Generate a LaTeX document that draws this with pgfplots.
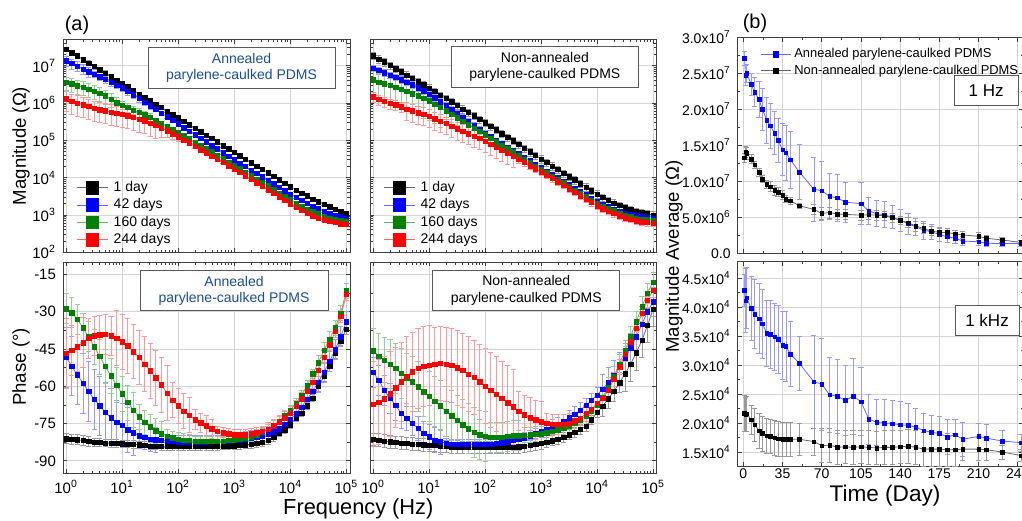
\documentclass[border=0pt]{standalone}
\usepackage{fontspec}
\setmainfont{Liberation Sans}
\usepackage{pgfplots}
\usepackage{pgfplotstable}
\pgfplotsset{compat=1.18}
\definecolor{ogreen}{RGB}{0,128,0}
\definecolor{annblue}{RGB}{28,78,150}

% Magnitude, annealed: f, |Z| (1 d, 42 d, 160 d, 244 d) with relative errors
\pgfplotstableread{
f b be u ue g ge r re
1 2.75e7 0.15 1.35e7 0.3 3.55e6 0.4 1.29e6 0.55
1.259 2.24e7 0.15 1.15e7 0.3 3.24e6 0.4 1.12e6 0.55
1.585 1.82e7 0.15 9.77e6 0.3 2.88e6 0.4 1.00e6 0.55
1.995 1.45e7 0.15 8.13e6 0.3 2.63e6 0.4 8.91e5 0.55
2.512 1.17e7 0.15 6.92e6 0.3 2.34e6 0.4 8.13e5 0.55
3.162 9.55e6 0.15 5.89e6 0.2 2.09e6 0.4 7.24e5 0.55
3.981 7.76e6 0.15 5.01e6 0.2 1.82e6 0.4 6.61e5 0.55
5.012 6.31e6 0.15 4.27e6 0.2 1.55e6 0.4 6.17e5 0.55
6.310 5.01e6 0.15 3.55e6 0.2 1.26e6 0.4 5.75e5 0.55
7.943 4.07e6 0.15 3.02e6 0.2 1.02e6 0.4 5.37e5 0.55
10 3.31e6 0.15 2.57e6 0.2 8.71e5 0.25 5.01e5 0.55
12.59 2.69e6 0.08 2.04e6 0.2 7.59e5 0.25 4.57e5 0.55
15.85 2.19e6 0.08 1.66e6 0.2 6.46e5 0.25 4.17e5 0.55
19.95 1.74e6 0.08 1.32e6 0.2 5.62e5 0.25 3.72e5 0.55
25.12 1.41e6 0.08 1.05e6 0.2 4.90e5 0.25 3.31e5 0.55
31.62 1.15e6 0.08 8.51e5 0.2 4.17e5 0.25 2.88e5 0.55
39.81 9.33e5 0.08 6.76e5 0.08 3.47e5 0.08 2.51e5 0.55
50.12 7.59e5 0.08 5.37e5 0.08 2.88e5 0.08 2.14e5 0.45
63.10 6.03e5 0.08 4.27e5 0.08 2.40e5 0.08 1.82e5 0.35
79.43 4.90e5 0.08 3.47e5 0.08 2.00e5 0.08 1.51e5 0.3
100 3.98e5 0.08 2.75e5 0.08 1.66e5 0.08 1.26e5 0.25
125.9 3.24e5 0.08 2.19e5 0.08 1.35e5 0.08 1.02e5 0.12
158.5 2.63e5 0.08 1.78e5 0.08 1.10e5 0.08 8.51e4 0.12
199.5 2.09e5 0.08 1.41e5 0.08 8.91e4 0.08 6.92e4 0.12
251.2 1.70e5 0.08 1.15e5 0.08 7.24e4 0.08 5.62e4 0.12
316.2 1.38e5 0.08 9.12e4 0.08 6.03e4 0.08 4.68e4 0.12
398.1 1.12e5 0.08 7.24e4 0.08 4.90e4 0.08 3.80e4 0.08
501.2 9.12e4 0.08 5.89e4 0.08 3.98e4 0.08 3.09e4 0.08
631.0 7.24e4 0.08 4.68e4 0.08 3.24e4 0.08 2.57e4 0.08
794.3 5.89e4 0.08 3.80e4 0.08 2.63e4 0.08 2.09e4 0.08
1000 4.79e4 0.08 3.02e4 0.08 2.14e4 0.08 1.70e4 0.08
1259 3.89e4 0.08 2.45e4 0.08 1.74e4 0.08 1.38e4 0.08
1585 3.16e4 0.08 2.00e4 0.08 1.41e4 0.08 1.12e4 0.08
1995 2.51e4 0.08 1.58e4 0.08 1.12e4 0.08 8.91e3 0.08
2512 2.04e4 0.08 1.29e4 0.08 9.12e3 0.08 7.24e3 0.08
3162 1.66e4 0.08 1.05e4 0.08 7.41e3 0.08 5.89e3 0.08
3981 1.35e4 0.08 8.51e3 0.08 6.03e3 0.08 4.79e3 0.08
5012 1.10e4 0.08 6.92e3 0.08 4.90e3 0.08 3.80e3 0.08
6310 8.71e3 0.08 5.50e3 0.08 3.89e3 0.08 3.09e3 0.08
7943 7.08e3 0.08 4.47e3 0.08 3.16e3 0.08 2.51e3 0.08
10000 5.75e3 0.08 3.63e3 0.08 2.57e3 0.08 2.00e3 0.08
12590 4.68e3 0.08 2.95e3 0.08 2.09e3 0.08 1.62e3 0.08
15850 3.89e3 0.08 2.45e3 0.08 1.74e3 0.08 1.35e3 0.08
19950 3.24e3 0.08 2.04e3 0.08 1.45e3 0.08 1.12e3 0.08
25120 2.69e3 0.08 1.74e3 0.08 1.23e3 0.08 955 0.08
31620 2.29e3 0.08 1.48e3 0.08 1.07e3 0.08 832 0.08
39810 1.95e3 0.08 1.26e3 0.08 933 0.08 741 0.08
50120 1.66e3 0.08 1.10e3 0.08 832 0.08 676 0.08
63100 1.41e3 0.08 977 0.08 759 0.08 631 0.08
79430 1.23e3 0.08 891 0.08 708 0.08 589 0.08
100000 1.07e3 0.08 813 0.08 661 0.08 562 0.08
}\magA

% Magnitude, non-annealed
\pgfplotstableread{
f b be u ue g ge r re
1 1.86e7 0.22 8.51e6 0.2 4.17e6 0.7 1.48e6 0.3
1.259 1.51e7 0.22 7.41e6 0.2 3.63e6 0.7 1.26e6 0.3
1.585 1.26e7 0.22 6.46e6 0.2 3.24e6 0.7 1.10e6 0.3
1.995 1.02e7 0.22 5.62e6 0.2 2.95e6 0.7 9.77e5 0.3
2.512 8.32e6 0.22 4.90e6 0.2 2.63e6 0.7 8.91e5 0.3
3.162 6.92e6 0.22 4.17e6 0.2 2.34e6 0.7 7.94e5 0.3
3.981 5.62e6 0.22 3.63e6 0.2 2.04e6 0.7 6.92e5 0.5
5.012 4.57e6 0.22 3.09e6 0.2 1.78e6 0.7 6.17e5 0.5
6.310 3.72e6 0.22 2.57e6 0.2 1.55e6 0.7 5.50e5 0.5
7.943 3.09e6 0.22 2.14e6 0.2 1.32e6 0.7 5.01e5 0.5
10 2.51e6 0.22 1.74e6 0.2 1.15e6 0.7 4.47e5 0.5
12.59 2.04e6 0.22 1.38e6 0.2 9.33e5 0.7 3.80e5 0.5
15.85 1.62e6 0.22 1.07e6 0.2 7.59e5 0.7 3.24e5 0.5
19.95 1.32e6 0.22 8.51e5 0.2 6.17e5 0.4 2.82e5 0.5
25.12 1.07e6 0.22 6.61e5 0.2 5.01e5 0.4 2.40e5 0.5
31.62 8.71e5 0.22 5.25e5 0.2 4.07e5 0.4 2.04e5 0.5
39.81 6.92e5 0.22 4.07e5 0.2 3.24e5 0.4 1.78e5 0.5
50.12 5.62e5 0.22 3.24e5 0.2 2.63e5 0.15 1.51e5 0.5
63.10 4.57e5 0.22 2.51e5 0.2 2.14e5 0.15 1.29e5 0.5
79.43 3.63e5 0.22 2.00e5 0.2 1.74e5 0.15 1.12e5 0.5
100 2.95e5 0.22 1.55e5 0.2 1.41e5 0.15 9.55e4 0.5
125.9 2.34e5 0.22 1.26e5 0.12 1.15e5 0.15 7.94e4 0.5
158.5 1.91e5 0.22 1.02e5 0.12 9.12e4 0.15 6.61e4 0.5
199.5 1.51e5 0.22 8.13e4 0.12 7.41e4 0.15 5.37e4 0.5
251.2 1.20e5 0.22 6.61e4 0.12 6.03e4 0.15 4.47e4 0.5
316.2 9.77e4 0.22 5.37e4 0.12 4.90e4 0.15 3.72e4 0.5
398.1 7.76e4 0.22 4.37e4 0.12 3.89e4 0.15 3.09e4 0.2
501.2 6.17e4 0.22 3.55e4 0.12 3.16e4 0.15 2.57e4 0.2
631.0 4.90e4 0.22 2.82e4 0.12 2.57e4 0.15 2.09e4 0.2
794.3 3.98e4 0.22 2.29e4 0.12 2.04e4 0.15 1.74e4 0.2
1000 3.16e4 0.22 1.86e4 0.12 1.66e4 0.15 1.45e4 0.2
1259 2.57e4 0.22 1.51e4 0.12 1.35e4 0.15 1.17e4 0.2
1585 2.04e4 0.22 1.23e4 0.12 1.10e4 0.15 9.55e3 0.2
1995 1.66e4 0.22 1.00e4 0.12 8.91e3 0.15 7.76e3 0.2
2512 1.32e4 0.22 7.94e3 0.12 7.24e3 0.15 6.31e3 0.2
3162 1.07e4 0.22 6.46e3 0.12 5.89e3 0.15 5.01e3 0.2
3981 8.71e3 0.22 5.25e3 0.12 4.68e3 0.15 4.07e3 0.2
5012 6.92e3 0.22 4.27e3 0.12 3.80e3 0.15 3.31e3 0.2
6310 5.62e3 0.22 3.47e3 0.12 3.09e3 0.15 2.69e3 0.2
7943 4.47e3 0.22 2.82e3 0.12 2.51e3 0.15 2.19e3 0.2
10000 3.63e3 0.22 2.29e3 0.12 2.04e3 0.15 1.78e3 0.2
12590 2.95e3 0.22 1.95e3 0.12 1.74e3 0.15 1.48e3 0.2
15850 2.45e3 0.22 1.66e3 0.12 1.48e3 0.15 1.26e3 0.2
19950 2.09e3 0.22 1.45e3 0.12 1.29e3 0.15 1.10e3 0.2
25120 1.82e3 0.22 1.26e3 0.12 1.12e3 0.15 955 0.2
31620 1.58e3 0.22 1.12e3 0.12 1.00e3 0.15 851 0.2
39810 1.41e3 0.22 1.02e3 0.12 912 0.15 776 0.2
50120 1.26e3 0.22 955 0.12 832 0.15 708 0.2
63100 1.15e3 0.22 891 0.12 776 0.15 661 0.2
79430 1.07e3 0.22 851 0.12 741 0.15 631 0.2
100000 1.00e3 0.22 813 0.12 708 0.15 603 0.2
}\magN

% Phase, annealed
\pgfplotstableread{
f b be u ue g ge r re
1 -81.0 2 -48.3 12 -28.7 6 -46.7 14
1.259 -81.2 2 -51.8 12 -30.4 6 -45.4 10
1.585 -81.5 2 -55.4 12 -33.0 6 -44.0 10
1.995 -81.8 2 -58.7 12 -36.5 6 -42.4 10
2.512 -82.2 2 -62.0 12 -40.0 6 -40.6 8
3.162 -82.5 1.5 -65.2 12 -44.0 7 -39.7 8
3.981 -82.6 1.5 -67.8 12 -48.0 7 -39.3 8
5.012 -82.8 1.5 -70.5 12 -52.0 7 -39.0 8
6.310 -82.9 1.5 -72.7 12 -55.8 7 -39.7 8
7.943 -83.0 1.5 -74.5 9 -59.5 7 -40.6 11
10 -83.1 1.5 -75.7 9 -63.0 7 -42.0 11
12.59 -83.2 1.5 -77.4 9 -66.5 7 -43.6 11
15.85 -83.3 1.5 -78.7 9 -69.5 7 -46.0 11
19.95 -83.5 1.5 -79.8 5 -72.2 5 -48.3 11
25.12 -83.7 1.5 -80.5 5 -74.5 5 -51.0 11
31.62 -84.0 1.5 -81.2 5 -76.3 5 -53.7 11
39.81 -84.0 1.5 -81.5 5 -77.8 5 -56.5 11
50.12 -84.1 1.5 -81.8 2.5 -79.0 5 -59.4 11
63.10 -84.1 1.5 -82.0 2.5 -80.0 2.5 -62.7 11
79.43 -84.1 1.5 -82.2 2.5 -80.7 2.5 -65.5 7
100 -84.1 1.5 -82.3 2.5 -81.2 2.5 -67.8 7
125.9 -84.1 1.5 -82.3 2.5 -81.6 2.5 -70.0 7
158.5 -84.1 1.5 -82.3 2.5 -81.8 2.5 -71.6 7
199.5 -84.1 1.5 -82.3 2.5 -82.0 2 -73.4 4
251.2 -84.2 1.5 -82.3 2.5 -82.0 2 -74.7 4
316.2 -84.2 1.5 -82.3 2.5 -82.0 2 -75.8 4
398.1 -84.2 1.5 -82.2 2.5 -82.0 2 -77.1 4
501.2 -84.1 1.5 -82.2 2.5 -82.0 2 -78.1 2
631.0 -84.0 1.5 -82.1 2.5 -82.0 2 -78.7 2
794.3 -84.0 1.5 -82.0 2.5 -81.8 2 -79.1 2
1000 -83.9 1.5 -81.8 2.5 -81.6 2 -79.4 2
1259 -83.7 1.5 -81.5 3 -81.3 2 -79.5 2
1585 -83.5 1.5 -81.2 3 -80.8 2 -79.4 2
1995 -83.3 1.5 -80.9 3 -80.2 2 -79.1 2
2512 -83.0 1.5 -80.5 3 -79.4 2 -78.7 2
3162 -82.6 1.5 -79.8 3 -78.5 2 -78.1 2
3981 -81.8 1.5 -79.3 3 -77.3 2 -77.2 2.5
5012 -80.5 1.5 -78.3 3 -75.8 2 -75.8 2.5
6310 -78.7 1.5 -77.0 3 -74.0 2 -74.3 2.5
7943 -77.4 1.5 -75.3 3 -71.8 2 -72.7 2.5
10000 -75.5 1.5 -73.3 3 -69.5 2 -70.7 2.5
12590 -72.7 1.5 -71.0 3 -66.7 2 -68.0 2.5
15850 -70.7 1.5 -68.3 3 -63.6 2 -65.0 2.5
19950 -67.8 1.5 -65.3 3 -59.8 2 -62.0 2.5
25120 -64.7 1.5 -62.0 3 -55.0 2 -58.4 2.5
31620 -60.0 2 -58.3 4 -50.5 3 -53.5 2.5
39810 -56.0 2 -54.3 4 -45.5 3 -48.2 2.5
50120 -52.0 2 -50.0 4 -41.0 3 -43.2 2.5
63100 -46.7 2 -45.3 4 -36.5 3 -37.9 2.5
79430 -41.6 2 -40.0 4 -30.5 3 -31.9 2.5
100000 -37.0 2 -34.0 4 -21.5 3 -23.0 2.5
}\phA

% Phase, non-annealed
\pgfplotstableread{
f b be u ue g ge r re
1 -81.3 2.5 -54.4 6 -45.7 9 -67.1 17
1.259 -81.6 2.5 -57.5 6 -47.8 9 -66.3 17
1.585 -82.0 2.5 -61.5 6 -49.4 9 -65.0 17
1.995 -82.3 2.5 -64.8 6 -51.0 10 -63.0 17
2.512 -82.6 2.5 -67.5 6 -52.8 10 -60.5 16
3.162 -82.8 2.5 -70.9 6 -54.8 10 -58.2 16
3.981 -83.0 2.5 -72.9 5 -56.8 10 -56.0 16
5.012 -83.2 2.5 -74.9 5 -58.1 10 -54.2 16
6.310 -83.4 2.5 -76.9 5 -60.1 10 -52.8 16
7.943 -83.5 2.5 -78.9 5 -62.1 10 -51.9 16
10 -83.7 2.5 -80.2 5 -64.1 10 -51.5 16
12.59 -83.8 2.5 -81.6 5 -66.1 10 -51.1 15
15.85 -84.0 2.5 -82.3 5 -67.8 10 -50.8 15
19.95 -84.2 2.5 -82.9 2 -70.1 10 -51.1 15
25.12 -84.3 2.5 -83.2 2 -71.8 10 -51.5 15
31.62 -84.4 2.5 -83.3 2 -73.7 10 -52.5 15
39.81 -84.5 2.5 -83.3 2 -75.4 10 -53.5 15
50.12 -84.5 2.5 -83.3 2 -77.0 10 -55.1 15
63.10 -84.5 2.5 -83.3 2 -78.5 10 -56.4 15
79.43 -84.5 2.5 -83.3 2 -79.5 10 -58.2 15
100 -84.5 2.5 -83.3 2 -80.1 10 -59.9 15
125.9 -84.5 2.5 -83.2 2 -80.4 6 -61.5 15
158.5 -84.5 2.5 -83.0 2 -80.5 6 -63.1 15
199.5 -84.5 2.5 -82.7 2 -80.4 6 -64.8 15
251.2 -84.5 2.5 -82.3 2 -80.1 6 -66.6 15
316.2 -84.4 2.5 -81.8 2 -79.8 6 -68.2 15
398.1 -84.3 2.5 -81.2 2 -79.8 6 -69.9 8
501.2 -84.1 2.5 -80.6 2 -79.6 3 -71.5 8
631.0 -83.8 2.5 -79.9 2 -79.4 3 -72.6 8
794.3 -83.4 2.5 -79.1 2 -79.2 3 -73.5 8
1000 -83.0 2.5 -78.3 2 -79.0 3 -74.2 8
1259 -82.5 2 -77.4 3 -78.6 3 -74.9 4
1585 -81.9 2 -76.4 3 -78.1 3 -75.2 4
1995 -81.2 2 -75.3 3 -77.5 3 -75.2 4
2512 -80.4 2 -74.1 3 -76.7 3 -75.2 4
3162 -79.5 2 -72.7 3 -75.8 3 -74.9 4
3981 -78.4 2 -71.2 3 -74.7 4 -73.8 3
5012 -77.2 2 -69.5 3 -73.4 4 -72.9 3
6310 -76.0 2 -67.7 3 -71.8 4 -70.9 3
7943 -73.5 2 -65.7 3 -69.8 4 -69.3 3
10000 -70.5 2 -63.5 3 -67.4 4 -66.9 3
12590 -68.0 4 -61.1 6 -64.3 4 -64.8 3
15850 -65.0 4 -58.4 6 -60.5 4 -61.5 3
19950 -62.0 4 -55.5 6 -56.0 4 -57.2 3
25120 -58.5 4 -52.2 6 -51.0 4 -52.1 3
31620 -55.0 7 -48.6 6 -45.5 4 -47.0 3
39810 -51.0 7 -44.5 6 -39.8 4 -42.0 3
50120 -46.5 7 -40.0 6 -34.0 4 -36.7 3
63100 -41.5 7 -35.0 6 -28.0 4 -30.7 3
79430 -35.5 7 -30.0 6 -22.5 4 -25.4 3
100000 -29.0 7 -26.0 6 -18.0 4 -21.3 3
}\phN

% 1 Hz magnitude average vs time
\pgfplotstableread{
d v e
1 2.71e7 1.0e6
2 2.47e7 1.4e6
3 2.50e7 1.3e6
7 2.35e7 1.5e6
10 2.24e7 2.0e6
14 2.14e7 2.5e6
17 2.00e7 2.9e6
21 1.85e7 3.2e6
24 1.77e7 3.1e6
28 1.67e7 3.0e6
31 1.57e7 3.0e6
35 1.44e7 3.6e6
38 1.40e7 3.8e6
42 1.30e7 4.0e6
50 1.13e7 3.8e6
63 8.9e6 4.4e6
70 8.7e6 4.1e6
77 7.9e6 3.2e6
84 7.7e6 3.2e6
91 7.1e6 2.8e6
105 6.9e6 2.9e6
112 5.9e6 1.9e6
119 5.5e6 1.8e6
126 5.35e6 1.8e6
133 5.0e6 1.6e6
140 4.6e6 1.5e6
147 4.1e6 1.4e6
154 3.7e6 1.2e6
161 3.2e6 1.2e6
168 3.0e6 1.0e6
175 2.6e6 1.0e6
182 2.3e6 0.8e6
189 2.1e6 0.7e6
196 1.7e6 0.6e6
210 1.6e6 0.5e6
217 1.4e6 0.4e6
231 1.35e6 0.4e6
248 1.35e6 0.4e6
}\hzA
\pgfplotstableread{
d v e
1 1.33e7 0.6e6
2 1.41e7 0.8e6
3 1.39e7 0.8e6
7 1.31e7 0.6e6
10 1.23e7 0.5e6
14 1.125e7 0.5e6
17 1.03e7 0.5e6
21 9.6e6 0.6e6
24 9.25e6 0.7e6
28 8.8e6 0.7e6
31 8.5e6 0.6e6
35 8.1e6 0.6e6
38 7.55e6 0.5e6
42 7.3e6 0.5e6
50 6.6e6 0.4e6
63 6.1e6 0.7e6
70 5.55e6 0.8e6
77 5.65e6 0.8e6
84 5.46e6 0.7e6
91 5.4e6 0.7e6
105 5.3e6 0.7e6
112 5.35e6 0.7e6
119 5.3e6 0.7e6
126 5.2e6 0.6e6
133 4.95e6 0.6e6
140 4.6e6 0.6e6
147 4.25e6 0.7e6
154 3.8e6 0.7e6
161 3.45e6 0.7e6
168 3.1e6 0.6e6
175 2.9e6 0.6e6
182 2.9e6 0.6e6
189 2.7e6 0.5e6
196 2.55e6 0.5e6
210 2.35e6 0.5e6
217 2.1e6 0.4e6
231 1.85e6 0.3e6
248 1.5e6 0.3e6
}\hzN

% 1 kHz magnitude average vs time
\pgfplotstableread{
d v e
1 4.29e4 2.8e3
2 4.11e4 5.5e3
3 4.16e4 5.3e3
7 3.98e4 5.5e3
10 3.88e4 5.9e3
14 3.80e4 6.0e3
17 3.71e4 6.0e3
21 3.55e4 5.7e3
24 3.53e4 5.9e3
28 3.49e4 5.8e3
31 3.44e4 5.9e3
35 3.34e4 5.8e3
38 3.32e4 6.0e3
42 3.19e4 5.6e3
50 3.03e4 4.6e3
63 2.71e4 8.0e3
70 2.67e4 7.9e3
77 2.49e4 6.5e3
84 2.46e4 6.4e3
91 2.39e4 6.0e3
98 2.46e4 6.6e3
105 2.37e4 5.9e3
112 2.07e4 4.3e3
119 2.01e4 4.0e3
126 2.00e4 4.0e3
133 1.99e4 4.0e3
140 1.97e4 4.0e3
147 1.96e4 3.8e3
154 1.93e4 3.3e3
161 1.87e4 3.0e3
168 1.84e4 3.0e3
175 1.82e4 3.0e3
182 1.76e4 3.0e3
189 1.80e4 2.6e3
196 1.72e4 2.9e3
210 1.77e4 2.3e3
217 1.74e4 2.3e3
231 1.69e4 1.9e3
248 1.66e4 1.5e3
}\khzA
\pgfplotstableread{
d v e
1 2.17e4 3.1e3
2 2.15e4 3.0e3
3 2.16e4 3.0e3
7 2.06e4 2.5e3
10 1.97e4 2.8e3
14 1.87e4 3.0e3
17 1.82e4 3.0e3
21 1.78e4 3.0e3
24 1.77e4 3.0e3
28 1.75e4 3.0e3
31 1.73e4 3.0e3
35 1.72e4 3.0e3
38 1.72e4 3.0e3
42 1.72e4 3.0e3
50 1.72e4 2.7e3
63 1.68e4 2.3e3
70 1.61e4 2.9e3
77 1.62e4 2.9e3
84 1.58e4 2.9e3
91 1.59e4 2.9e3
98 1.58e4 2.9e3
105 1.59e4 2.9e3
112 1.58e4 2.9e3
119 1.57e4 2.9e3
126 1.58e4 2.9e3
133 1.58e4 2.9e3
140 1.59e4 2.9e3
147 1.60e4 2.9e3
154 1.58e4 2.9e3
161 1.55e4 2.9e3
168 1.55e4 2.9e3
175 1.55e4 2.9e3
182 1.54e4 2.9e3
189 1.54e4 2.9e3
196 1.55e4 2.0e3
210 1.55e4 2.0e3
217 1.54e4 1.8e3
231 1.50e4 1.2e3
248 1.44e4 1.0e3
}\khzN

\pgfplotsset{
  ser/.style={color=#1!60, line width=0.4pt, mark=square*, mark size=1.1pt,
    mark options={solid, fill=#1, draw=#1, line width=0.2pt},
    error bars/y dir=both,
    error bars/error bar style={#1!40, line width=0.35pt},
    error bars/error mark options={#1!40, line width=0.35pt, mark size=1.3pt, rotate=90}},
}
\tikzset{tbox/.style={draw=black!65, line width=0.5pt, fill=white, align=center,
    inner sep=0pt, font=\fontsize{7}{8.2}\selectfont}}

\begin{document}
\begin{tikzpicture}

% ---------- (a) top left: magnitude, annealed ----------
\begin{axis}[scale only axis, anchor=south west, at={(31.5pt,133.85pt)}, width=143.5pt, height=106.4pt,
  xmode=log, ymode=log, xmin=0.88, xmax=1.16e5, ymin=100, ymax=5e7,
  axis line style={black!75, line width=0.5pt},
  grid=major, major grid style={black!17, line width=0.4pt},
  tick style={black!75, line width=0.4pt}, major tick length=2.2pt, minor tick length=1.3pt, tick align=inside,
  ticklabel style={font=\fontsize{7.5}{9}\selectfont},
  xtick={1,10,100,1000,10000,100000},
  minor xtick={2,3,4,5,6,7,8,9,20,30,40,50,60,70,80,90,200,300,400,500,600,700,800,900,2000,3000,4000,5000,6000,7000,8000,9000,20000,30000,40000,50000,60000,70000,80000,90000},
  xticklabels={},
  ytick={100,1000,10000,100000,1000000,10000000},
  minor ytick={200,300,400,500,600,700,800,900,2000,3000,4000,5000,6000,7000,8000,9000,2e4,3e4,4e4,5e4,6e4,7e4,8e4,9e4,2e5,3e5,4e5,5e5,6e5,7e5,8e5,9e5,2e6,3e6,4e6,5e6,6e6,7e6,8e6,9e6,2e7,3e7,4e7},
  yticklabels={10\textsuperscript{2},10\textsuperscript{3},10\textsuperscript{4},10\textsuperscript{5},10\textsuperscript{6},10\textsuperscript{7}},
  legend image code/.code={
    \draw[#1, mark=none] (0pt,0pt) -- (15.5pt,0pt);
    \draw[#1, mark size=3.2pt] plot coordinates {(7.75pt,0pt)};
    \path (17.3pt,0pt);
  },
  legend style={at={(0.045,0.018)}, anchor=south west, draw=none, fill=none,
    font=\fontsize{7}{8}\selectfont, inner sep=0pt, row sep=0pt,
    nodes={inner sep=1pt, text height=5.2pt, text depth=1.4pt}},
  legend cell align=left]
\addplot[ser=black, error bars/y explicit relative] table[x=f, y=b, y error=be] {\magA};
\addplot[ser=blue, error bars/y explicit relative] table[x=f, y=u, y error=ue] {\magA};
\addplot[ser=ogreen, error bars/y explicit relative] table[x=f, y=g, y error=ge] {\magA};
\addplot[ser=red, error bars/y explicit relative] table[x=f, y=r, y error=re] {\magA};
\legend{1 day, 42 days, 160 days, 244 days}
\node[tbox, text=annblue, minimum width=93.5pt, minimum height=20.5pt] at (rel axis cs:0.622,0.868) {Annealed\\parylene-caulked PDMS};
\end{axis}

% ---------- top middle: magnitude, non-annealed ----------
\begin{axis}[scale only axis, anchor=south west, at={(185pt,133.85pt)}, width=143.35pt, height=106.4pt,
  xmode=log, ymode=log, xmin=0.88, xmax=1.16e5, ymin=100, ymax=5e7,
  axis line style={black!75, line width=0.5pt},
  grid=major, major grid style={black!17, line width=0.4pt},
  tick style={black!75, line width=0.4pt}, major tick length=2.2pt, minor tick length=1.3pt, tick align=inside,
  ticklabel style={font=\fontsize{7.5}{9}\selectfont},
  xtick={1,10,100,1000,10000,100000},
  minor xtick={2,3,4,5,6,7,8,9,20,30,40,50,60,70,80,90,200,300,400,500,600,700,800,900,2000,3000,4000,5000,6000,7000,8000,9000,20000,30000,40000,50000,60000,70000,80000,90000},
  xticklabels={},
  ytick={100,1000,10000,100000,1000000,10000000},
  minor ytick={200,300,400,500,600,700,800,900,2000,3000,4000,5000,6000,7000,8000,9000,2e4,3e4,4e4,5e4,6e4,7e4,8e4,9e4,2e5,3e5,4e5,5e5,6e5,7e5,8e5,9e5,2e6,3e6,4e6,5e6,6e6,7e6,8e6,9e6,2e7,3e7,4e7},
  yticklabels={},
  legend image code/.code={
    \draw[#1, mark=none] (0pt,0pt) -- (15.5pt,0pt);
    \draw[#1, mark size=3.2pt] plot coordinates {(7.75pt,0pt)};
    \path (17.3pt,0pt);
  },
  legend style={at={(0.045,0.018)}, anchor=south west, draw=none, fill=none,
    font=\fontsize{7}{8}\selectfont, inner sep=0pt, row sep=0pt,
    nodes={inner sep=1pt, text height=5.2pt, text depth=1.4pt}},
  legend cell align=left]
\addplot[ser=black, error bars/y explicit relative] table[x=f, y=b, y error=be] {\magN};
\addplot[ser=blue, error bars/y explicit relative] table[x=f, y=u, y error=ue] {\magN};
\addplot[ser=ogreen, error bars/y explicit relative] table[x=f, y=g, y error=ge] {\magN};
\addplot[ser=red, error bars/y explicit relative] table[x=f, y=r, y error=re] {\magN};
\legend{1 day, 42 days, 160 days, 244 days}
\node[tbox, minimum width=93.3pt, minimum height=20.6pt] at (rel axis cs:0.610,0.872) {Non-annealed\\parylene-caulked PDMS};
\end{axis}

% ---------- bottom left: phase, annealed ----------
\begin{axis}[scale only axis, anchor=south west, at={(31.5pt,23.35pt)}, width=143.5pt, height=105.65pt,
  xmode=log, xmin=0.88, xmax=1.16e5, ymin=-95, ymax=-10,
  axis line style={black!75, line width=0.5pt},
  grid=major, major grid style={black!17, line width=0.4pt},
  tick style={black!75, line width=0.4pt}, major tick length=2.2pt, minor tick length=1.3pt, tick align=inside,
  ticklabel style={font=\fontsize{7.5}{9}\selectfont},
  xtick={1,10,100,1000,10000,100000},
  minor xtick={2,3,4,5,6,7,8,9,20,30,40,50,60,70,80,90,200,300,400,500,600,700,800,900,2000,3000,4000,5000,6000,7000,8000,9000,20000,30000,40000,50000,60000,70000,80000,90000},
  xticklabels={10\textsuperscript{0},10\textsuperscript{1},10\textsuperscript{2},10\textsuperscript{3},10\textsuperscript{4},10\textsuperscript{5}},
  ytick={-90,-75,-60,-45,-30,-15},
  minor ytick={-82.5,-67.5,-52.5,-37.5,-22.5},
  yticklabels={-90,-75,-60,-45,-30,-15}]
\addplot[ser=black, error bars/y explicit] table[x=f, y=b, y error=be] {\phA};
\addplot[ser=blue, error bars/y explicit] table[x=f, y=u, y error=ue] {\phA};
\addplot[ser=ogreen, error bars/y explicit] table[x=f, y=g, y error=ge] {\phA};
\addplot[ser=red, error bars/y explicit] table[x=f, y=r, y error=re] {\phA};
\node[tbox, text=annblue, minimum width=94pt, minimum height=20pt] at (rel axis cs:0.596,0.864) {Annealed\\parylene-caulked PDMS};
\end{axis}

% ---------- bottom middle: phase, non-annealed ----------
\begin{axis}[scale only axis, anchor=south west, at={(185pt,23.35pt)}, width=143.35pt, height=105.65pt,
  xmode=log, xmin=0.88, xmax=1.16e5, ymin=-95, ymax=-10,
  axis line style={black!75, line width=0.5pt},
  grid=major, major grid style={black!17, line width=0.4pt},
  tick style={black!75, line width=0.4pt}, major tick length=2.2pt, minor tick length=1.3pt, tick align=inside,
  ticklabel style={font=\fontsize{7.5}{9}\selectfont},
  xtick={1,10,100,1000,10000,100000},
  minor xtick={2,3,4,5,6,7,8,9,20,30,40,50,60,70,80,90,200,300,400,500,600,700,800,900,2000,3000,4000,5000,6000,7000,8000,9000,20000,30000,40000,50000,60000,70000,80000,90000},
  xticklabels={10\textsuperscript{0},10\textsuperscript{1},10\textsuperscript{2},10\textsuperscript{3},10\textsuperscript{4},10\textsuperscript{5}},
  ytick={-90,-75,-60,-45,-30,-15},
  minor ytick={-82.5,-67.5,-52.5,-37.5,-22.5},
  yticklabels={}]
\addplot[ser=black, error bars/y explicit] table[x=f, y=b, y error=be] {\phN};
\addplot[ser=blue, error bars/y explicit] table[x=f, y=u, y error=ue] {\phN};
\addplot[ser=ogreen, error bars/y explicit] table[x=f, y=g, y error=ge] {\phN};
\addplot[ser=red, error bars/y explicit] table[x=f, y=r, y error=re] {\phN};
\node[tbox, minimum width=93.7pt, minimum height=20.3pt] at (rel axis cs:0.545,0.866) {Non-annealed\\parylene-caulked PDMS};
\end{axis}

% ---------- (b) top right: 1 Hz ----------
\begin{axis}[scale only axis, anchor=south west, at={(368.85pt,133.35pt)}, width=142.8pt, height=108pt,
  xmin=-5, xmax=250, ymin=0, ymax=3e7,
  axis line style={black!75, line width=0.5pt},
  grid=major, major grid style={black!17, line width=0.4pt},
  tick style={black!75, line width=0.4pt}, major tick length=2.2pt, minor tick length=1.3pt, tick align=inside,
  ticklabel style={font=\fontsize{7}{8}\selectfont},
  xtick={0,35,70,105,140,175,210,245}, xticklabels={}, minor x tick num=1,
  ytick={0,5e6,1e7,1.5e7,2e7,2.5e7,3e7}, minor y tick num=1, scaled y ticks=false,
  yticklabels={0.0,5.0x10\textsuperscript{6},1.0x10\textsuperscript{7},1.5x10\textsuperscript{7},2.0x10\textsuperscript{7},2.5x10\textsuperscript{7},3.0x10\textsuperscript{7}},
  legend image code/.code={
    \draw[#1, mark=none] (0pt,0pt) -- (15pt,0pt);
    \draw[#1, mark size=1.3pt] plot coordinates {(7.5pt,0pt)};
    \path (15.6pt,0pt);
  },
  legend style={at={(0.078,0.962)}, anchor=north west, draw=none, fill=none,
    font=\fontsize{6.45}{8}\selectfont, inner sep=0pt, row sep=0pt,
    nodes={inner sep=1pt, text height=4.9pt, text depth=1.4pt}},
  legend cell align=left]
\addplot[ser=blue, mark size=0.9pt, error bars/y explicit] table[x=d, y=v, y error=e] {\hzA};
\addplot[ser=black, mark size=0.9pt, error bars/y explicit] table[x=d, y=v, y error=e] {\hzN};
\legend{Annealed parylene-caulked PDMS, Non-annealed parylene-caulked PDMS}
\node[tbox, minimum width=32pt, minimum height=15pt, font=\fontsize{8.5}{10}\selectfont] at (rel axis cs:0.870,0.753) {1 Hz};
\end{axis}

% ---------- bottom right: 1 kHz ----------
\begin{axis}[scale only axis, anchor=south west, at={(368.85pt,26.65pt)}, width=142.8pt, height=102.5pt,
  xmin=-5, xmax=250, ymin=12470, ymax=47800,
  axis line style={black!75, line width=0.5pt},
  grid=major, major grid style={black!17, line width=0.4pt},
  tick style={black!75, line width=0.4pt}, major tick length=2.2pt, minor tick length=1.3pt, tick align=inside,
  ticklabel style={font=\fontsize{7}{8}\selectfont},
  xtick={0,35,70,105,140,175,210,245}, minor x tick num=1,
  xticklabels={0,35,70,105,140,175,210,245},
  xticklabel style={yshift=2.3pt},
  ytick={15000,20000,25000,30000,35000,40000,45000}, minor y tick num=1, scaled y ticks=false,
  yticklabels={1.5x10\textsuperscript{4},2.0x10\textsuperscript{4},2.5x10\textsuperscript{4},3.0x10\textsuperscript{4},3.5x10\textsuperscript{4},4.0x10\textsuperscript{4},4.5x10\textsuperscript{4}}]
\addplot[ser=blue, mark size=0.9pt, error bars/y explicit] table[x=d, y=v, y error=e] {\khzA};
\addplot[ser=black, mark size=0.9pt, error bars/y explicit] table[x=d, y=v, y error=e] {\khzN};
\node[tbox, minimum width=32pt, minimum height=15pt, font=\fontsize{8.5}{10}\selectfont] at (rel axis cs:0.873,0.712) {1 kHz};
\end{axis}

% ---------- labels ----------
\node[font=\fontsize{10}{12}\selectfont] at (38.5pt,247.5pt) {(a)};
\node[font=\fontsize{10}{12}\selectfont] at (377.5pt,248.5pt) {(b)};
\node[rotate=90, font=\fontsize{9.3}{11}\selectfont] at (10.5pt,187pt) {Magnitude (Ω)};
\node[rotate=90, font=\fontsize{9.3}{11}\selectfont] at (10.5pt,76.5pt) {Phase (°)};
\node[rotate=90, font=\fontsize{9.3}{11}\selectfont] at (337pt,131.75pt) {Magnitude Average (Ω)};
\node[anchor=base, font=\fontsize{10.9}{13}\selectfont, inner sep=0pt] at (179.15pt,2.85pt) {Frequency (Hz)};
\node[anchor=base, font=\fontsize{11.3}{13}\selectfont, inner sep=0pt] at (442.5pt,9.2pt) {Time (Day)};

\pgfresetboundingbox
\useasboundingbox (0pt,0pt) rectangle (511pt,260pt);
\end{tikzpicture}
\end{document}
